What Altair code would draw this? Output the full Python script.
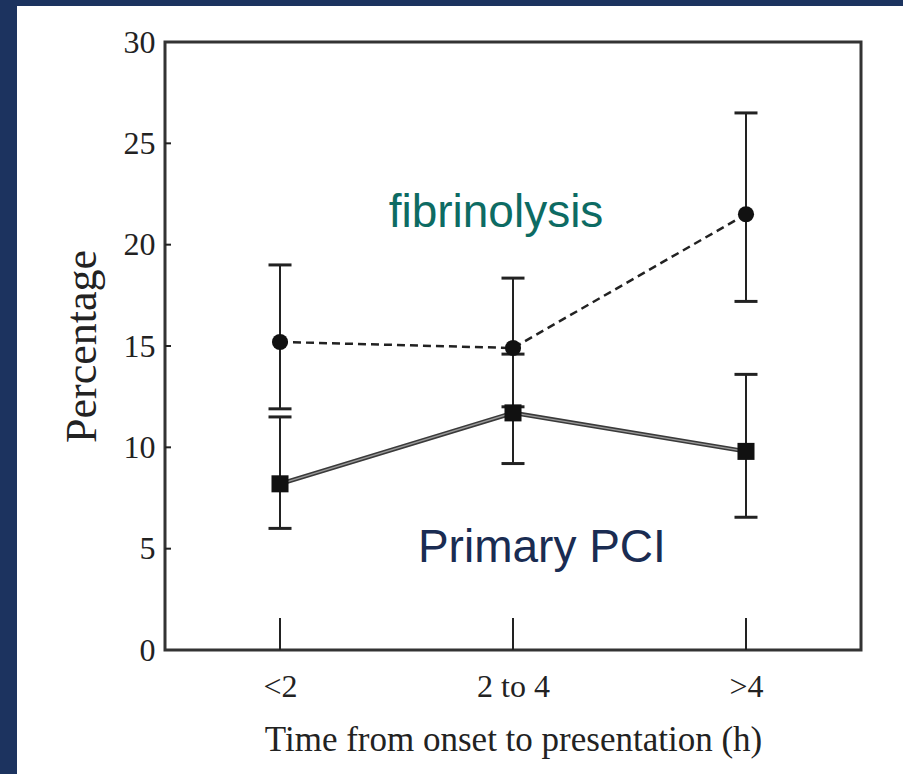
import json
import altair as alt
import pandas as pd

# Time from symptom onset to presentation, and outcome percentage with error bars
periods = ["<2", "2 to 4", ">4"]
fib_pct = [15.2, 14.9, 21.5]
fib_lo = [11.9, 12.0, 17.2]
fib_hi = [19.0, 18.35, 26.5]
pci_pct = [8.2, 11.7, 9.8]
pci_lo = [6.0, 9.2, 6.55]
pci_hi = [11.5, 14.6, 13.6]

y_ticks = [0, 5, 10, 15, 20, 25, 30]

# Series labels written inside the plot
label_text = ["fibrinolysis", "Primary PCI"]
label_x = [0.927, 1.124]
label_y = [20.87, 4.34]
label_color = ["#0d6b63", "#1a2c52"]

rows = []
for i, p in enumerate(periods):
    rows.append(dict(idx=i, period=p, series="fibrinolysis",
                     pct=fib_pct[i], lo=fib_lo[i], hi=fib_hi[i]))
    rows.append(dict(idx=i, period=p, series="Primary PCI",
                     pct=pci_pct[i], lo=pci_lo[i], hi=pci_hi[i]))
df = pd.DataFrame(rows)

ticks_df = pd.DataFrame({"idx": list(range(len(periods))),
                         "base": [0] * len(periods), "top": [1.58] * len(periods)})
yt_df = pd.DataFrame({"v": y_ticks[1:-1]})
lab_df = pd.DataFrame({"text": label_text, "x": label_x, "y": label_y, "c": label_color})

W, H = 696, 608
PAD = dict(left=165, top=42, right=42, bottom=124)
NAVY = "#1c335f"
INK = "#222222"

x_scale = alt.Scale(domain=[-0.4936, 2.4936], nice=False, zero=False)
y_scale = alt.Scale(domain=[0, 30], nice=False)

x_axis = alt.Axis(values=list(range(len(periods))),
                  labelExpr=f"{json.dumps(periods)}[datum.value]",
                  title="Time from onset to presentation (h)",
                  labelFont="Liberation Serif", labelFontSize=32, labelColor=INK,
                  labelPadding=21, titleFont="Liberation Serif", titleFontSize=35,
                  titleFontWeight="normal", titleColor=INK, titlePadding=20,
                  ticks=False, domain=False, grid=False)
y_axis = alt.Axis(values=y_ticks, title="Percentage",
                  labelFont="Liberation Serif", labelFontSize=32, labelColor=INK,
                  labelPadding=10, titleFont="Liberation Serif", titleFontSize=44,
                  titleFontWeight="normal", titleColor=INK, titlePadding=19,
                  ticks=False, domain=False, grid=False)

base = alt.Chart(df)

# Dark backdrop strips around the white panel
strip_left = alt.Chart(pd.DataFrame({"k": [0]})).mark_rect(fill=NAVY).encode(
    x=alt.value(-PAD["left"]), x2=alt.value(-148),
    y=alt.value(-PAD["top"]), y2=alt.value(H + PAD["bottom"]))
strip_top = alt.Chart(pd.DataFrame({"k": [0]})).mark_rect(fill=NAVY).encode(
    x=alt.value(-PAD["left"]), x2=alt.value(W + PAD["right"]),
    y=alt.value(-PAD["top"]), y2=alt.value(-36))

x_enc = alt.X("idx:Q", scale=x_scale, axis=x_axis)
y_enc = alt.Y("pct:Q", scale=y_scale, axis=y_axis)

err = base.mark_rule(color=INK, strokeWidth=2).encode(
    x=alt.X("idx:Q", scale=x_scale), y=alt.Y("lo:Q", scale=y_scale), y2="hi:Q")
cap_lo = base.mark_tick(color=INK, thickness=3, size=23, orient="horizontal",
                        opacity=1).encode(
    x=alt.X("idx:Q", scale=x_scale), y=alt.Y("lo:Q", scale=y_scale))
cap_hi = base.mark_tick(color=INK, thickness=3, size=23, orient="horizontal",
                        opacity=1).encode(
    x=alt.X("idx:Q", scale=x_scale), y=alt.Y("hi:Q", scale=y_scale))

fib = base.transform_filter(alt.datum.series == "fibrinolysis")
pci = base.transform_filter(alt.datum.series == "Primary PCI")

fib_line = fib.mark_line(color=INK, strokeWidth=2.5, strokeDash=[8, 5]).encode(
    x=x_enc, y=y_enc)
pci_line = pci.mark_line(color="#3a3a3a", strokeWidth=4.5).encode(x=x_enc, y=y_enc)
pci_line_core = pci.mark_line(color="#9a9a9a", strokeWidth=1.3).encode(x=x_enc, y=y_enc)

fib_pts = fib.mark_point(shape="circle", filled=True, size=260, color="#111111",
                         opacity=1).encode(x=x_enc, y=y_enc)
pci_pts = pci.mark_point(shape="square", filled=True, size=290, color="#111111",
                         opacity=1).encode(x=x_enc, y=y_enc)

x_ticks = alt.Chart(ticks_df).mark_rule(color=INK, strokeWidth=2).encode(
    x=alt.X("idx:Q", scale=x_scale), y=alt.Y("base:Q", scale=y_scale), y2="top:Q")
y_ticks_in = alt.Chart(yt_df).mark_rule(color=INK, strokeWidth=2).encode(
    x=alt.value(0), x2=alt.value(6), y=alt.Y("v:Q", scale=y_scale))

labels = alt.Chart(lab_df).mark_text(font="Liberation Sans", fontSize=46,
                                     align="center", baseline="alphabetic").encode(
    x=alt.X("x:Q", scale=x_scale), y=alt.Y("y:Q", scale=y_scale),
    text="text:N", color=alt.Color("c:N", scale=None))

chart = alt.layer(
    strip_left, strip_top, x_ticks, y_ticks_in, err, cap_lo, cap_hi,
    pci_line, pci_line_core, fib_line, pci_pts, fib_pts, labels,
).properties(
    width=W, height=H, padding=PAD, background="white",
    autosize=alt.AutoSizeParams(type="none"),
).configure_view(stroke="#333333", strokeWidth=3)

chart.save("out.html", embed_options={"renderer": "svg", "actions": False})
